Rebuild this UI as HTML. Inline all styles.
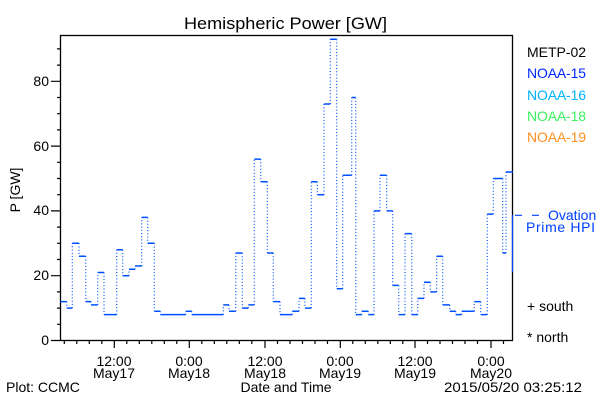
<!DOCTYPE html>
<html><head><meta charset="utf-8"><style>
html,body{margin:0;padding:0;background:#fff;}
svg{display:block;font-family:"Liberation Sans",sans-serif;}
</style></head><body>
<svg width="600" height="400" viewBox="0 0 600 400" xmlns="http://www.w3.org/2000/svg">
<rect width="600" height="400" fill="#fff"/>
<text x="184" y="29" font-size="17" textLength="203" lengthAdjust="spacingAndGlyphs">Hemispheric Power [GW]</text>
<rect x="60.5" y="35.5" width="452" height="305" fill="none" stroke="#000" stroke-width="1.3"/>
<g stroke="#000" stroke-width="1.2">
<path d="M60 340.5H51M60 275.7H51M60 210.9H51M60 146.1H51M60 81.3H51"/>
<path d="M60 324.3H57M60 308.1H57M60 291.9H57M60 259.5H57M60 243.3H57M60 227.1H57M60 194.7H57M60 178.5H57M60 162.3H57M60 129.9H57M60 113.7H57M60 97.5H57M60 65.1H57M60 48.9H57"/>
<path d="M114.3 341V348M189.3 341V348M265 341V348M340.3 341V348M415 341V348M491 341V348"/>
<path d="M64.3 341V344M76.8 341V344M89.3 341V344M101.8 341V344M126.8 341V344M139.3 341V344M151.8 341V344M164.3 341V344M176.8 341V344M201.8 341V344M214.3 341V344M226.8 341V344M239.3 341V344M251.8 341V344M277.5 341V344M290 341V344M302.5 341V344M315 341V344M327.5 341V344M352.8 341V344M365.3 341V344M377.8 341V344M390.3 341V344M402.8 341V344M427.5 341V344M440 341V344M452.5 341V344M465 341V344M477.5 341V344M503.5 341V344"/>
</g>
<g font-size="14" text-anchor="end">
<text x="49" y="345">0</text><text x="49" y="280">20</text><text x="49" y="215">40</text><text x="49" y="151">60</text><text x="49" y="86">80</text>
</g>
<text transform="translate(20,190) rotate(-90)" font-size="14" text-anchor="middle">P [GW]</text>
<g font-size="14" text-anchor="middle">
<text x="114" y="366">12:00</text><text x="114" y="378">May17</text>
<text x="189" y="366">0:00</text><text x="189" y="378">May18</text>
<text x="265" y="366">12:00</text><text x="265" y="378">May18</text>
<text x="340" y="366">0:00</text><text x="340" y="378">May19</text>
<text x="415" y="366">12:00</text><text x="415" y="378">May19</text>
<text x="491" y="366">0:00</text><text x="491" y="378">May20</text>
<text x="286" y="392">Date and Time</text>
</g>
<text x="6" y="392" font-size="14">Plot: CCMC</text>
<text x="444" y="392" font-size="14" textLength="138" lengthAdjust="spacingAndGlyphs">2015/05/20 03:25:12</text>
<g font-size="14">
<text x="527" y="57" fill="#000" textLength="59">METP-02</text>
<text x="527" y="78" fill="#0028ff" textLength="59">NOAA-15</text>
<text x="527" y="100" fill="#00b4ff" textLength="59">NOAA-16</text>
<text x="527" y="121" fill="#3cf060" textLength="59">NOAA-18</text>
<text x="527" y="142" fill="#ff9020" textLength="59">NOAA-19</text>
<text x="527" y="311" fill="#000">+ south</text>
<text x="527" y="342" fill="#000">* north</text>
<text x="548" y="220" fill="#0040ff">Ovation</text>
<text x="526" y="232" fill="#0040ff" textLength="69">Prime HPI</text>
</g>
<path d="M515 215.3H522M532 215.3H539M512.5 215V272M512 172H513" stroke="#0040ff" stroke-width="1.2" fill="none"/>
<path fill="none" stroke="#0050ff" stroke-width="1.5" d="M60.3 301.6H66.7M66.7 308.1H72.3M72.3 243.3H79M79 256.3H85.7M85.7 301.6H91M91 304.9H97.7M97.7 272.5H104M104 314.6H116.7M116.7 249.8H122.7M122.7 275.7H129M129 269.2H135M135 266H141.7M141.7 217.4H147.7M147.7 243.3H154.3M154.3 311.3H160.3M160.3 314.6H185.7M185.7 311.3H191.7M191.7 314.6H223.3M223.3 304.9H229M229 311.3H235.7M235.7 253H242.3M242.3 308.1H248.3M248.3 304.9H254.3M254.3 159.1H260.7M260.7 181.7H267.3M267.3 253H273.3M273.3 301.6H280M280 314.6H292.3M292.3 311.3H299M299 298.4H305M305 308.1H311.3M311.3 181.7H317.3M317.3 194.7H324M324 104H330.3M330.3 39.2H336.7M336.7 288.7H342.7M342.7 175.3H351.7M351.7 97.5H355.7M355.7 314.6H361.7M361.7 311.3H368.3M368.3 314.6H374M374 210.9H380M380 175.3H386.7M386.7 210.9H392.7M392.7 285.4H398.7M398.7 314.6H405M405 233.6H411.7M411.7 314.6H417.7M417.7 298.4H424M424 282.2H430.3M430.3 291.9H436.7M436.7 256.3H442.7M442.7 304.9H449.7M449.7 311.3H455.7M455.7 314.6H461.7M461.7 311.3H474.3M474.3 301.6H480.7M480.7 314.6H487.3M487.3 214.1H493.3M493.3 178.5H502.7M502.7 253H506M506 172H512.3"/>
<path fill="none" stroke="#0050ff" stroke-width="1.2" stroke-dasharray="1 2.2" d="M66.7 301.6V308.1M72.3 308.1V243.3M79 243.3V256.3M85.7 256.3V301.6M91 301.6V304.9M97.7 304.9V272.5M104 272.5V314.6M116.7 314.6V249.8M122.7 249.8V275.7M129 275.7V269.2M135 269.2V266M141.7 266V217.4M147.7 217.4V243.3M154.3 243.3V311.3M160.3 311.3V314.6M185.7 314.6V311.3M191.7 311.3V314.6M223.3 314.6V304.9M229 304.9V311.3M235.7 311.3V253M242.3 253V308.1M248.3 308.1V304.9M254.3 304.9V159.1M260.7 159.1V181.7M267.3 181.7V253M273.3 253V301.6M280 301.6V314.6M292.3 314.6V311.3M299 311.3V298.4M305 298.4V308.1M311.3 308.1V181.7M317.3 181.7V194.7M324 194.7V104M330.3 104V39.2M336.7 39.2V288.7M342.7 288.7V175.3M351.7 175.3V97.5M355.7 97.5V314.6M361.7 314.6V311.3M368.3 311.3V314.6M374 314.6V210.9M380 210.9V175.3M386.7 175.3V210.9M392.7 210.9V285.4M398.7 285.4V314.6M405 314.6V233.6M411.7 233.6V314.6M417.7 314.6V298.4M424 298.4V282.2M430.3 282.2V291.9M436.7 291.9V256.3M442.7 256.3V304.9M449.7 304.9V311.3M455.7 311.3V314.6M461.7 314.6V311.3M474.3 311.3V301.6M480.7 301.6V314.6M487.3 314.6V214.1M493.3 214.1V178.5M502.7 178.5V253M506 253V172"/>
</svg>
</body></html>
